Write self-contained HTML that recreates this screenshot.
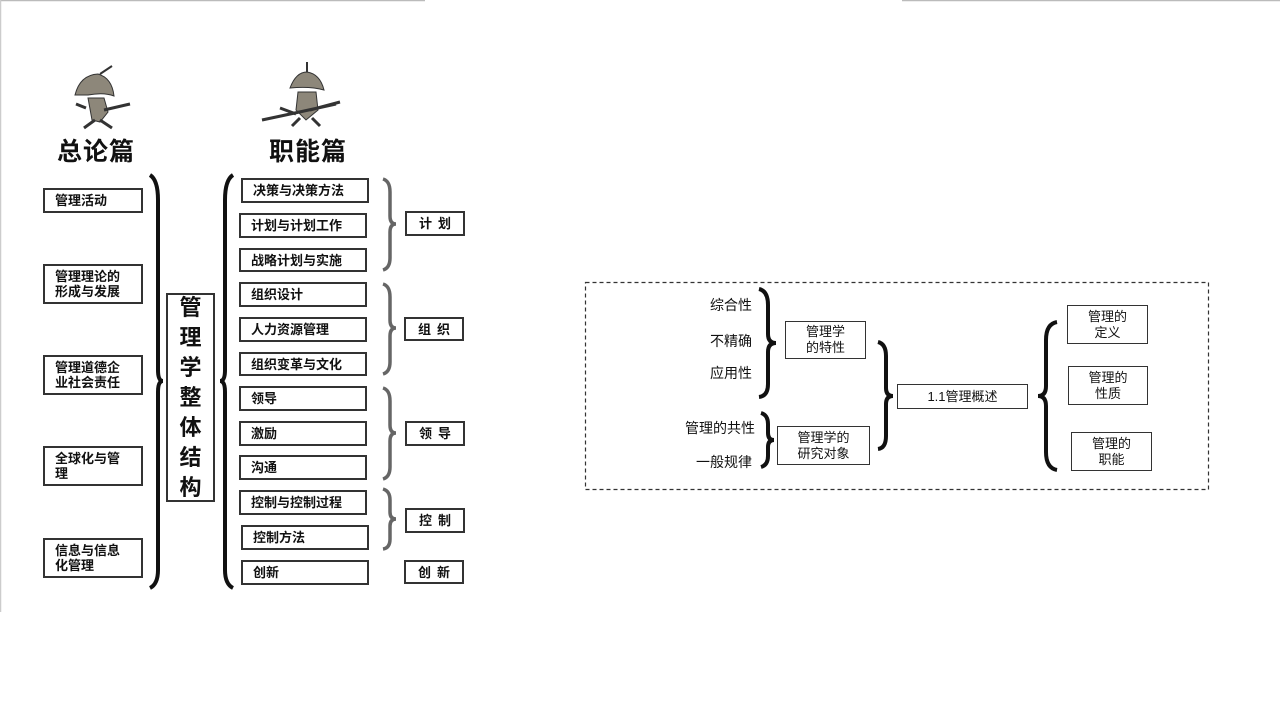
<!DOCTYPE html>
<html><head><meta charset="utf-8"><style>
body{margin:0;width:1280px;height:720px;background:#fff;position:relative;overflow:hidden;font-family:"Liberation Sans","Noto Sans CJK SC",sans-serif;}
.b{position:absolute;border:2px solid #333;box-sizing:border-box;font-weight:bold;font-size:13px;color:#111;display:flex;align-items:center;padding-left:10px;line-height:15px;background:#fff}
.c{justify-content:center;padding-left:0;letter-spacing:6px;text-indent:6px}
.n{position:absolute;border:1.5px solid #333;box-sizing:border-box;font-size:13px;color:#111;display:flex;align-items:center;justify-content:center;text-align:center;line-height:16px;background:#fff}
.t{position:absolute;font-size:14px;color:#111;text-align:right;width:100px}
.h{position:absolute;font-size:25px;font-weight:bold;color:#111;letter-spacing:1px}
svg{position:absolute;left:0;top:0}
</style></head><body>
<svg width="1280" height="720">
<line x1="0" y1="0.5" x2="425" y2="0.5" stroke="#bbb" stroke-width="1.5"/>
<line x1="902" y1="0.5" x2="1280" y2="0.5" stroke="#bbb" stroke-width="1.5"/>
<line x1="0.5" y1="0" x2="0.5" y2="612" stroke="#ccc" stroke-width="1.5"/>
<g fill="#8d877a" stroke="#333" stroke-width="1">
<path d="M75 95 Q80 75 98 74 Q112 78 114 96 Q104 92 88 95 Z"/>
<path d="M88 98 L104 98 L108 112 L100 122 L92 120 Z"/>
<path d="M86 108 L76 104 M104 110 L130 104 M95 120 L84 128 M100 120 L112 128" fill="none" stroke-width="3"/>
<path d="M100 74 L112 66" fill="none" stroke-width="2"/>
<path d="M290 88 Q296 72 307 72 Q320 74 324 90 Q310 86 290 88 Z"/>
<path d="M298 92 L316 92 L318 110 L306 120 L296 110 Z"/>
<path d="M262 120 Q300 112 336 104 M280 108 L296 114 M310 110 L340 102 M300 118 L292 126 M312 118 L320 126" fill="none" stroke-width="3"/>
<path d="M307 72 L307 62" fill="none" stroke-width="2"/>
</g>
<g fill="none" stroke="#111" stroke-width="4">
<path d="M150 175 Q158 180 158 200 L158 370 Q158 381 163 381 Q158 381 158 392 L158 570 Q158 584 150 588"/>
<path d="M233 175 Q225 180 225 200 L225 370 Q225 381 220 381 Q225 381 225 392 L225 570 Q225 584 233 588"/>
</g>
<g fill="none" stroke="#666" stroke-width="3.5">
<path d="M383 179 Q390 181 390 192 L390 216 Q390 224 396 224 Q390 224 390 232 L390 258 Q390 268 383 270"/>
<path d="M383 284 Q390 286 390 297 L390 320 Q390 328 396 328 Q390 328 390 336 L390 362 Q390 372 383 374"/>
<path d="M383 388 Q390 390 390 401 L390 425 Q390 433 396 433 Q390 433 390 441 L390 467 Q390 477 383 479"/>
<path d="M383 489 Q390 491 390 500 L390 512 Q390 519 396 519 Q390 519 390 526 L390 539 Q390 548 383 549"/>
</g>
<rect x="585.5" y="282.5" width="623" height="207" fill="none" stroke="#333" stroke-width="1.2" stroke-dasharray="4,3"/>
<g fill="none" stroke="#111" stroke-width="4">
<path d="M759 289 Q768 291 768 305 L768 334 Q768 343 776 343 Q768 343 768 352 L768 384 Q768 396 759 397"/>
<path d="M761 413 Q768 415 768 424 L768 433 Q768 440 774 440 Q768 440 768 447 L768 456 Q768 465 761 467"/>
<path d="M878 342 Q886 344 886 356 L886 388 Q886 396 893 396 Q886 396 886 404 L886 436 Q886 448 878 449"/>
<path d="M1057 322 Q1046 324 1046 340 L1046 386 Q1046 396 1038 396 Q1046 396 1046 406 L1046 452 Q1046 468 1057 470"/>
</g>
</svg>
<div class="h" style="left:57px;top:132px">总论篇</div>
<div class="h" style="left:269px;top:132px">职能篇</div>

<div class="b" style="left:43px;top:188px;width:100px;height:25px">管理活动</div>
<div class="b" style="left:43px;top:264px;width:100px;height:40px">管理理论的<br>形成与发展</div>
<div class="b" style="left:43px;top:355px;width:100px;height:40px">管理道德企<br>业社会责任</div>
<div class="b" style="left:43px;top:446px;width:100px;height:40px">全球化与管<br>理</div>
<div class="b" style="left:43px;top:538px;width:100px;height:40px">信息与信息<br>化管理</div>

<div class="b" style="left:166px;top:293px;width:49px;height:209px;padding:0;flex-direction:column;justify-content:center;font-size:22px;line-height:30px">管<br>理<br>学<br>整<br>体<br>结<br>构</div>

<div class="b" style="left:241px;top:178px;width:128px;height:25px">决策与决策方法</div>
<div class="b" style="left:239px;top:213px;width:128px;height:25px">计划与计划工作</div>
<div class="b" style="left:239px;top:248px;width:128px;height:24px">战略计划与实施</div>
<div class="b" style="left:239px;top:282px;width:128px;height:25px">组织设计</div>
<div class="b" style="left:239px;top:317px;width:128px;height:25px">人力资源管理</div>
<div class="b" style="left:239px;top:352px;width:128px;height:24px">组织变革与文化</div>
<div class="b" style="left:239px;top:386px;width:128px;height:25px">领导</div>
<div class="b" style="left:239px;top:421px;width:128px;height:25px">激励</div>
<div class="b" style="left:239px;top:455px;width:128px;height:25px">沟通</div>
<div class="b" style="left:239px;top:490px;width:128px;height:25px">控制与控制过程</div>
<div class="b" style="left:241px;top:525px;width:128px;height:25px">控制方法</div>
<div class="b" style="left:241px;top:560px;width:128px;height:25px">创新</div>

<div class="b c" style="left:405px;top:211px;width:60px;height:25px">计划</div>
<div class="b c" style="left:404px;top:317px;width:60px;height:24px">组织</div>
<div class="b c" style="left:405px;top:421px;width:60px;height:25px">领导</div>
<div class="b c" style="left:405px;top:508px;width:60px;height:25px">控制</div>
<div class="b c" style="left:404px;top:560px;width:60px;height:24px">创新</div>

<div class="t" style="left:652px;top:295px">综合性</div>
<div class="t" style="left:652px;top:331px">不精确</div>
<div class="t" style="left:652px;top:363px">应用性</div>
<div class="t" style="left:655px;top:418px">管理的共性</div>
<div class="t" style="left:652px;top:452px">一般规律</div>

<div class="n" style="left:785px;top:321px;width:81px;height:38px">管理学<br>的特性</div>
<div class="n" style="left:777px;top:426px;width:93px;height:39px">管理学的<br>研究对象</div>
<div class="n" style="left:897px;top:384px;width:131px;height:25px">1.1管理概述</div>
<div class="n" style="left:1067px;top:305px;width:81px;height:39px">管理的<br>定义</div>
<div class="n" style="left:1068px;top:366px;width:80px;height:39px">管理的<br>性质</div>
<div class="n" style="left:1071px;top:432px;width:81px;height:39px">管理的<br>职能</div>
</body></html>
